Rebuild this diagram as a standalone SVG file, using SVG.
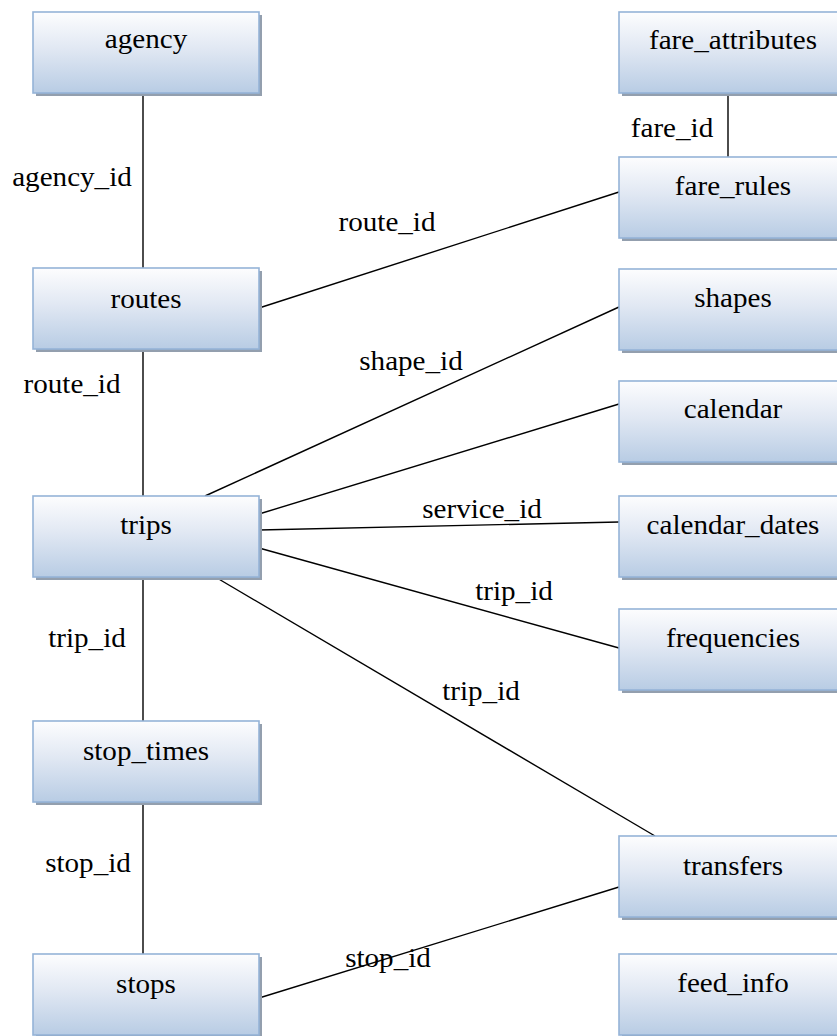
<svg xmlns="http://www.w3.org/2000/svg" width="837" height="1036" viewBox="0 0 837 1036">
  <defs>
    <linearGradient id="boxFill" x1="0" y1="0" x2="0" y2="1">
      <stop offset="0" stop-color="#fdfdfe"/>
      <stop offset="0.45" stop-color="#e1e8f3"/>
      <stop offset="1" stop-color="#b8cce4"/>
    </linearGradient>
    <style>
      .shadow { fill: #939fae; }
      .box { fill: url(#boxFill); stroke: #95b3d7; stroke-width: 1.6; }
      .lbl { font-family: "Liberation Serif", "Times New Roman", Tinos, serif; font-size: 28px; fill: #000; text-anchor: middle; }
      .conn line { stroke: #000; stroke-width: 1.4; }
    </style>
  </defs>
  <rect width="837" height="1036" fill="#ffffff"/>

  <!-- relationships -->
  <g id="connectors" class="conn">
    <line x1="143" y1="92" x2="143" y2="268"/>
    <line x1="728" y1="92" x2="728" y2="157"/>
    <line x1="259" y1="308" x2="619" y2="192"/>
    <line x1="143" y1="350" x2="143" y2="496"/>
    <line x1="205" y1="496" x2="619" y2="307"/>
    <line x1="259" y1="514" x2="619" y2="404"/>
    <line x1="259" y1="530" x2="619" y2="522"/>
    <line x1="259" y1="548" x2="619" y2="648"/>
    <line x1="217" y1="578" x2="655" y2="836"/>
    <line x1="143" y1="578" x2="143" y2="721"/>
    <line x1="143" y1="802" x2="143" y2="954"/>
    <line x1="259" y1="998" x2="619" y2="887"/>
  </g>

  <!-- key labels on the relationships -->
  <g id="connector-labels">
    <text class="lbl" transform="translate(72,186) scale(1.04,1)">agency_id</text>
    <text class="lbl" transform="translate(672,137) scale(1.04,1)">fare_id</text>
    <text class="lbl" transform="translate(387,231) scale(1.04,1)">route_id</text>
    <text class="lbl" transform="translate(411,370) scale(1.04,1)">shape_id</text>
    <text class="lbl" transform="translate(72,393) scale(1.04,1)">route_id</text>
    <text class="lbl" transform="translate(482,518) scale(1.04,1)">service_id</text>
    <text class="lbl" transform="translate(514,600) scale(1.04,1)">trip_id</text>
    <text class="lbl" transform="translate(87,647) scale(1.04,1)">trip_id</text>
    <text class="lbl" transform="translate(481,700) scale(1.04,1)">trip_id</text>
    <text class="lbl" transform="translate(88,872) scale(1.04,1)">stop_id</text>
    <text class="lbl" transform="translate(388,967) scale(1.04,1)">stop_id</text>
  </g>

  <!-- left column tables -->
  <g id="agency">
    <rect class="shadow" x="36" y="15" width="226" height="81"/>
    <rect class="box" x="33" y="12" width="226" height="81"/>
    <text class="lbl" transform="translate(146,48) scale(1.04,1)">agency</text>
  </g>
  <g id="routes">
    <rect class="shadow" x="36" y="271" width="226" height="81"/>
    <rect class="box" x="33" y="268" width="226" height="81"/>
    <text class="lbl" transform="translate(146,308) scale(1.04,1)">routes</text>
  </g>
  <g id="trips">
    <rect class="shadow" x="36" y="499" width="226" height="81"/>
    <rect class="box" x="33" y="496" width="226" height="81"/>
    <text class="lbl" transform="translate(146,534) scale(1.04,1)">trips</text>
  </g>
  <g id="stop_times">
    <rect class="shadow" x="36" y="724" width="226" height="81"/>
    <rect class="box" x="33" y="721" width="226" height="81"/>
    <text class="lbl" transform="translate(146,760) scale(1.04,1)">stop_times</text>
  </g>
  <g id="stops">
    <rect class="shadow" x="36" y="957" width="226" height="81"/>
    <rect class="box" x="33" y="954" width="226" height="81"/>
    <text class="lbl" transform="translate(146,993) scale(1.04,1)">stops</text>
  </g>

  <!-- right column tables -->
  <g id="fare_attributes">
    <rect class="shadow" x="622" y="15" width="226" height="81"/>
    <rect class="box" x="619" y="12" width="226" height="81"/>
    <text class="lbl" transform="translate(733,49) scale(1.04,1)">fare_attributes</text>
  </g>
  <g id="fare_rules">
    <rect class="shadow" x="622" y="160" width="226" height="81"/>
    <rect class="box" x="619" y="157" width="226" height="81"/>
    <text class="lbl" transform="translate(733,195) scale(1.04,1)">fare_rules</text>
  </g>
  <g id="shapes">
    <rect class="shadow" x="622" y="272" width="226" height="81"/>
    <rect class="box" x="619" y="269" width="226" height="81"/>
    <text class="lbl" transform="translate(733,307) scale(1.04,1)">shapes</text>
  </g>
  <g id="calendar">
    <rect class="shadow" x="622" y="384" width="226" height="81"/>
    <rect class="box" x="619" y="381" width="226" height="81"/>
    <text class="lbl" transform="translate(733,418) scale(1.04,1)">calendar</text>
  </g>
  <g id="calendar_dates">
    <rect class="shadow" x="622" y="499" width="226" height="81"/>
    <rect class="box" x="619" y="496" width="226" height="81"/>
    <text class="lbl" transform="translate(733,534) scale(1.04,1)">calendar_dates</text>
  </g>
  <g id="frequencies">
    <rect class="shadow" x="622" y="612" width="226" height="81"/>
    <rect class="box" x="619" y="609" width="226" height="81"/>
    <text class="lbl" transform="translate(733,647) scale(1.04,1)">frequencies</text>
  </g>
  <g id="transfers">
    <rect class="shadow" x="622" y="839" width="226" height="81"/>
    <rect class="box" x="619" y="836" width="226" height="81"/>
    <text class="lbl" transform="translate(733,875) scale(1.04,1)">transfers</text>
  </g>
  <g id="feed_info">
    <rect class="shadow" x="622" y="957" width="226" height="81"/>
    <rect class="box" x="619" y="954" width="226" height="81"/>
    <text class="lbl" transform="translate(733,992) scale(1.04,1)">feed_info</text>
  </g>
</svg>
